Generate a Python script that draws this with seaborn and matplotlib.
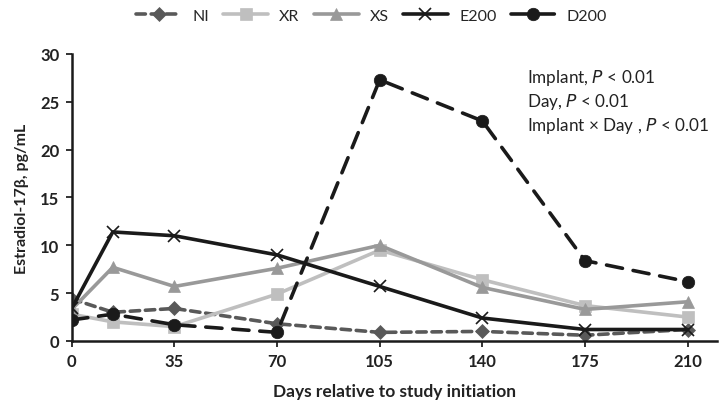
import matplotlib
matplotlib.use("Agg")
import matplotlib.pyplot as plt
import seaborn as sns
import pandas as pd

days = [0, 14, 35, 70, 105, 140, 175, 210]
ni = [4.4, 3.0, 3.4, 1.8, 0.9, 1.0, 0.6, 1.2]
xr = [2.8, 2.0, 1.5, 4.9, 9.5, 6.4, 3.7, 2.5]
xs = [3.3, 7.7, 5.7, 7.6, 10.0, 5.6, 3.3, 4.1]
e200 = [3.4, 11.4, 11.0, 9.0, 5.7, 2.4, 1.2, 1.2]
d200 = [2.2, 2.8, 1.7, 0.9, 27.3, 23.0, 8.4, 6.2]
groups = ["NI", "XR", "XS", "E200", "D200"]
xticks = [0, 35, 70, 105, 140, 175, 210]
yticks = [0, 5, 10, 15, 20, 25, 30]

series = {"NI": ni, "XR": xr, "XS": xs, "E200": e200, "D200": d200}
df = pd.concat([pd.DataFrame({"Day": days, "E2": v, "Group": k}) for k, v in series.items()])

sns.set_style("ticks")
plt.rcParams["font.family"] = ["Lato", "DejaVu Sans"]

styles = {
    "NI": dict(color="#595959", marker="D", ms=7, dashes=(2.6, 1.6)),
    "XR": dict(color="#BFBFBF", marker="s", ms=8, dashes=None),
    "XS": dict(color="#999999", marker="^", ms=9, dashes=None),
    "E200": dict(color="#1a1a1a", marker="x", ms=9, dashes=None),
    "D200": dict(color="#1a1a1a", marker="o", ms=9, dashes=(4.5, 3.0)),
}

fig = plt.figure(figsize=(7.23, 4.02), dpi=100)
ax = fig.add_axes([0.0992, 0.1493, 0.8925, 0.7139])

for g in groups:
    st = styles[g]
    sub = df[df["Group"] == g]
    kw = dict(x="Day", y="E2", data=sub, ax=ax, color=st["color"], marker=st["marker"],
              markersize=st["ms"], linewidth=2.6, label=g, markeredgecolor=st["color"],
              markeredgewidth=1.2 if g == "E200" else 0.5)
    line = sns.lineplot(**kw).lines[-1]
    if st["dashes"] is not None:
        line.set_dashes(st["dashes"])
        line.set_dash_capstyle("round")

ax.set_xlim(0, 220)
ax.set_ylim(0, 30)
ax.set_xticks(xticks)
ax.set_yticks(yticks)
ax.set_xticklabels([str(t) for t in xticks], fontsize=12, fontweight="bold", color="#222222")
ax.set_yticklabels([str(t) for t in yticks], fontsize=12, fontweight="bold", color="#222222")
ax.tick_params(axis="both", direction="out", length=4, width=1.3, color="#222222", pad=5)
for s in ["top", "right"]:
    ax.spines[s].set_visible(False)
for s in ["left", "bottom"]:
    ax.spines[s].set_linewidth(1.8)
    ax.spines[s].set_color("#1a1a1a")

ax.set_xlabel("Days relative to study initiation", fontsize=12.5, fontweight="bold", labelpad=10, color="#222222")
ax.set_ylabel("Estradiol-17β, pg/mL", fontsize=11.5, fontweight="bold", labelpad=8, color="#222222")

tx = 0.729
ax.text(tx, 0.806, "Implant, $\\it{P}$ < 0.01", transform=fig.transFigure, fontsize=12.3, va="center", color="#222222")
ax.text(tx, 0.746, "Day, $\\it{P}$ < 0.01", transform=fig.transFigure, fontsize=12.3, va="center", color="#222222")
ax.text(tx, 0.687, "Implant × Day , $\\it{P}$ < 0.01", transform=fig.transFigure, fontsize=12.3, va="center", color="#222222")

leg = ax.legend(loc="center", bbox_to_anchor=(0.514, 0.958), bbox_transform=fig.transFigure,
                ncol=5, frameon=False, fontsize=11.5, handlelength=2.8, columnspacing=0.9,
                handletextpad=0.7)

fig.savefig("out.png", dpi=100)
